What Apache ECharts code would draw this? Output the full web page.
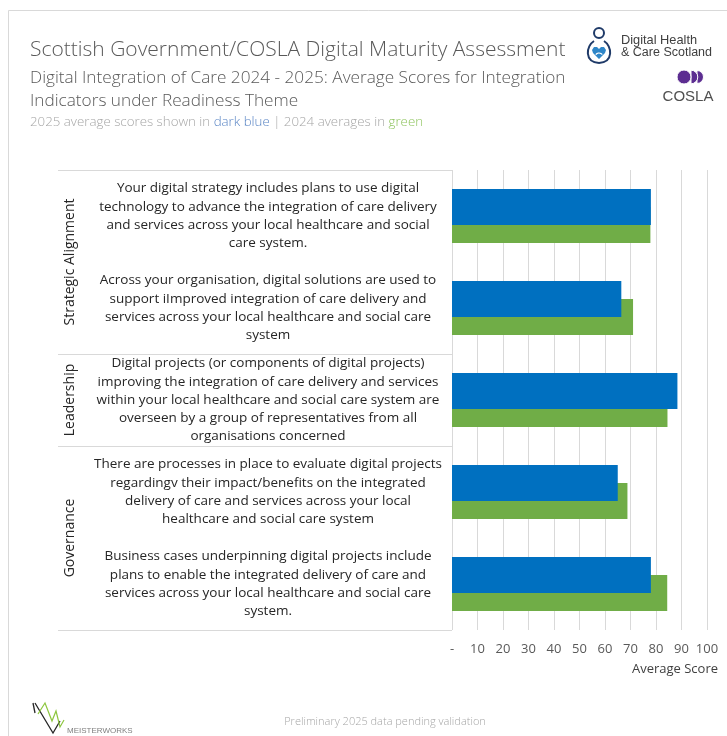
<!DOCTYPE html>
<html>
<head>
<meta charset="utf-8">
<script src="https://cdn.jsdelivr.net/npm/echarts@6/dist/echarts.min.js"></script>
<style>
html, body { margin: 0; padding: 0; background: #ffffff; }
#chart { width: 727px; height: 736px; }
</style>
</head>
<body>
<div id="chart"></div>
<script>
// Readiness indicators (one bar pair per indicator), top to bottom
const indicators = [
  'Your digital strategy includes plans to use digital\ntechnology to advance the integration of care delivery\nand services across your local healthcare and social\ncare system.',
  'Across your organisation, digital solutions are used to\nsupport iImproved integration of care delivery and\nservices across your local healthcare and social care\nsystem',
  'Digital projects (or components of digital projects)\nimproving the integration of care delivery and services\nwithin your local healthcare and social care system are\noverseen by a group of representatives from all\norganisations concerned',
  'There are processes in place to evaluate digital projects\nregardingv their impact/benefits on the integrated\ndelivery of care and services across your local\nhealthcare and social care system',
  'Business cases underpinning digital projects include\nplans to enable the integrated delivery of care and\nservices across your local healthcare and social care\nsystem.'
];

// Themes grouping the indicators, and how many indicators each one holds
const themes = ['Strategic Alignment', 'Leadership', 'Governance'];
const themeSizes = [2, 1, 2];

// Average scores
const scores2025 = [78, 66.4, 88.4, 65, 78];
const scores2024 = [77.8, 71, 84.5, 68.8, 84.4];

// Score axis
const scoreMin = 0;
const scoreMax = 100;
const scoreStep = 10;

const BLUE = '#0070C0';
const GREEN = '#70AD47';
const FONT = "'Open Sans', 'DejaVu Sans', sans-serif";
const LOGO_FONT = '"Liberation Sans", Arial, sans-serif';

const chart = echarts.init(document.getElementById('chart'), null, { renderer: 'canvas' });

chart.setOption({
  backgroundColor: '#ffffff',
  animation: false,
  textStyle: { fontFamily: FONT },
  grid: { left: 452, right: 20, top: 170, bottom: 106, containLabel: false },
  xAxis: {
    type: 'value',
    min: scoreMin,
    max: scoreMax,
    interval: scoreStep,
    name: 'Average Score',
    nameLocation: 'end',
    nameGap: 11,
    nameTextStyle: {
      color: '#404040', fontSize: 13, fontFamily: FONT,
      align: 'right', verticalAlign: 'top', padding: [33, 0, 0, 0]
    },
    axisLine: { show: false },
    axisTick: { show: false },
    axisLabel: {
      color: '#595959', fontSize: 13, fontFamily: FONT, margin: 13,
      formatter: v => (v === 0 ? '-' : String(v))
    },
    splitLine: { show: true, lineStyle: { color: '#d9d9d9', width: 1 } }
  },
  yAxis: {
    type: 'category',
    data: indicators,
    inverse: true,
    axisLine: { show: false },
    axisTick: { show: false },
    splitLine: { show: false },
    axisLabel: {
      color: '#262626', fontSize: 13.5, fontFamily: FONT,
      align: 'center', lineHeight: 18.3, margin: 184, interval: 0
    }
  },
  series: [
    {
      name: '2025',
      type: 'bar',
      data: scores2025,
      barWidth: 36,
      barGap: '-50%',
      z: 3,
      itemStyle: { color: BLUE }
    },
    {
      name: '2024',
      type: 'bar',
      data: scores2024,
      barWidth: 36,
      z: 2,
      itemStyle: { color: GREEN }
    }
  ]
});

// Theme labels and separator rules beside the indicator texts
const py = i => chart.convertToPixel({ yAxisIndex: 0 }, indicators[i]);
const band = py(1) - py(0);
const gridLeft = chart.convertToPixel({ xAxisIndex: 0 }, scoreMin);

const graphics = [];
let start = 0;
const ruleY = [py(0) - band / 2];
themes.forEach((name, t) => {
  const end = start + themeSizes[t] - 1;
  const mid = (py(start) + py(end)) / 2;
  graphics.push({
    type: 'text', x: 70, y: mid, rotation: Math.PI / 2,
    style: {
      text: name, fill: '#262626', font: '14px ' + FONT,
      align: 'center', verticalAlign: 'middle'
    }
  });
  ruleY.push(py(end) + band / 2);
  start = end + 1;
});
// rules: top edge and the bottom edge of each theme block
ruleY.forEach(y => {
  graphics.push({
    type: 'line', shape: { x1: 58, y1: Math.round(y) + 0.5, x2: gridLeft, y2: Math.round(y) + 0.5 },
    style: { stroke: '#d9d9d9', lineWidth: 1 }, z: 1
  });
});

// Outer frame
graphics.push({
  type: 'rect', shape: { x: 8.5, y: 10.5, width: 740, height: 740 },
  style: { fill: 'none', stroke: '#d9d9d9', lineWidth: 1 }, z: 0
});

// Header texts
graphics.push(
  {
    type: 'text', x: 30, y: 50,
    style: { text: 'Scottish Government/COSLA Digital Maturity Assessment', fill: '#595959',
      font: '300 21px ' + FONT, verticalAlign: 'middle' }
  },
  {
    type: 'text', x: 30, y: 78,
    style: { text: 'Digital Integration of Care 2024 - 2025: Average Scores for Integration', fill: '#595959',
      font: '300 17.2px ' + FONT, verticalAlign: 'middle' }
  },
  {
    type: 'text', x: 30, y: 101,
    style: { text: 'Indicators under Readiness Theme', fill: '#595959',
      font: '300 17.2px ' + FONT, verticalAlign: 'middle' }
  },
  {
    type: 'text', x: 30, y: 122,
    style: {
      text: '{g|2025 average scores shown in }{b|dark blue}{g| | 2024 averages in }{v|green}',
      verticalAlign: 'middle',
      rich: {
        g: { fill: '#a6a6a6', font: '300 13.3px ' + FONT },
        b: { fill: '#5b86c5', font: '300 13.3px ' + FONT },
        v: { fill: '#8fc45f', font: '300 13.3px ' + FONT }
      }
    }
  }
);

// Digital Health & Care Scotland mark
graphics.push(
  { type: 'circle', shape: { cx: 599, cy: 33, r: 5 }, style: { fill: 'none', stroke: '#1f3a68', lineWidth: 2 } },
  { type: 'bezierCurve', shape: { x1: 594, y1: 41, cpx1: 586, cpy1: 46, cpx2: 584, cpy2: 62, x2: 599, y2: 63 },
    style: { fill: 'none', stroke: '#1f3a68', lineWidth: 2 } },
  { type: 'bezierCurve', shape: { x1: 604, y1: 41, cpx1: 612, cpy1: 46, cpx2: 614, cpy2: 62, x2: 599, y2: 63 },
    style: { fill: 'none', stroke: '#1f3a68', lineWidth: 2 } },
  { type: 'polygon', shape: { points: [[599, 59], [593, 53], [592, 50], [594, 47], [597, 47], [599, 49], [601, 47], [604, 47], [606, 50], [605, 53]] },
    style: { fill: '#2e86c8' } },
  { type: 'arc', shape: { cx: 599, cy: 57, r: 4, startAngle: Math.PI * 1.2, endAngle: Math.PI * 1.8 },
    style: { stroke: '#ffffff', lineWidth: 1.2, fill: 'none' } },
  {
    type: 'text', x: 621, y: 40,
    style: { text: 'Digital Health', fill: '#404040', font: '12.8px ' + LOGO_FONT, verticalAlign: 'middle' }
  },
  {
    type: 'text', x: 621, y: 53,
    style: { text: '& Care Scotland', fill: '#404040', font: '12.5px ' + LOGO_FONT, verticalAlign: 'middle' }
  }
);

// COSLA mark
graphics.push(
  { type: 'sector', shape: { cx: 697, cy: 77, r: 6.5, startAngle: -Math.PI / 2, endAngle: Math.PI / 2 },
    style: { fill: '#5c2d91', stroke: '#ffffff', lineWidth: 1 } },
  { type: 'sector', shape: { cx: 691, cy: 77, r: 6.8, startAngle: -Math.PI / 2, endAngle: Math.PI / 2 },
    style: { fill: '#5c2d91', stroke: '#ffffff', lineWidth: 1 } },
  { type: 'circle', shape: { cx: 684, cy: 77, r: 7 }, style: { fill: '#5c2d91', stroke: '#ffffff', lineWidth: 1 } },
  {
    type: 'text', x: 688, y: 97,
    style: { text: 'COSLA', fill: '#505050', font: '15px "Liberation Sans Narrow", ' + LOGO_FONT,
      align: 'center', verticalAlign: 'middle' }
  }
);

// MEISTERWORKS mark and footer note
graphics.push(
  { type: 'polyline', shape: { points: [[33, 703], [35, 713]] },
    style: { stroke: '#262626', lineWidth: 1.3, fill: 'none' } },
  { type: 'polyline', shape: { points: [[35, 703], [53, 733], [60, 721]] },
    style: { stroke: '#262626', lineWidth: 1.3, fill: 'none' } },
  { type: 'polyline', shape: { points: [[38, 714], [45, 703], [52, 721], [56, 711], [60, 727], [64, 720]] },
    style: { stroke: '#8dc63f', lineWidth: 1.2, fill: 'none' } },
  {
    type: 'text', x: 67, y: 731,
    style: { text: 'MEISTERWORKS', fill: '#7f7f7f', font: '8px "Liberation Sans Narrow", ' + LOGO_FONT, verticalAlign: 'middle' }
  },
  {
    type: 'text', x: 385, y: 722,
    style: { text: 'Preliminary 2025 data pending validation', fill: '#a6a6a6', font: '300 11px ' + FONT,
      align: 'center', verticalAlign: 'middle' }
  }
);

chart.setOption({ graphic: graphics });
</script>
</body>
</html>
